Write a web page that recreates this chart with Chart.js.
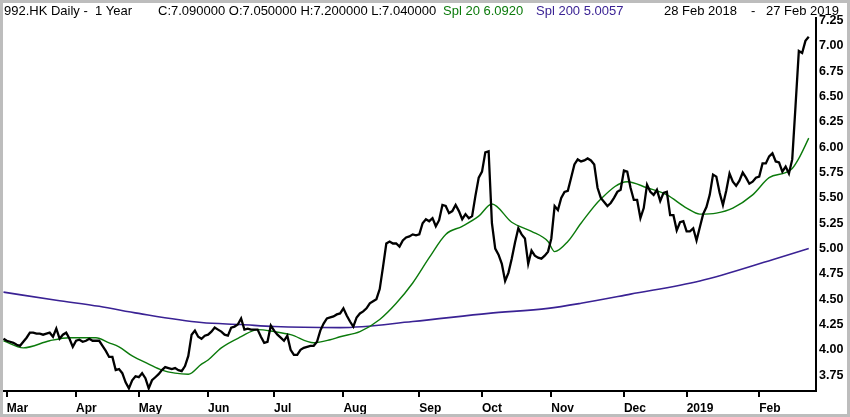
<!DOCTYPE html>
<html>
<head>
<meta charset="utf-8">
<script src="https://cdn.jsdelivr.net/npm/chart.js@4.4.1/dist/chart.umd.min.js"></script>
<style>
    html, body { margin: 0; padding: 0; background: #fff; }
    #wrap { position: relative; width: 850px; height: 417px; }
</style>
</head>
<body>
<div id="wrap"><canvas id="chart" width="850" height="417"></canvas></div>
<script>
// Daily closes, one per trading day (0 = 28 Feb 2018, 244 = 27 Feb 2019)
const closes = [
    4.11, 4.09, 4.08, 4.07, 4.05, 4.04, 4.08, 4.12, 4.17, 4.17,
    4.16, 4.16, 4.15, 4.16, 4.17, 4.13, 4.21, 4.11, 4.15, 4.17,
    4.11, 4.03, 4.09, 4.10, 4.08, 4.09, 4.11, 4.09, 4.09, 4.09,
    4.04, 3.99, 3.93, 3.93, 3.80, 3.81, 3.77, 3.68, 3.62, 3.70,
    3.74, 3.73, 3.77, 3.72, 3.62, 3.70, 3.73, 3.76, 3.80, 3.83,
    3.82, 3.81, 3.82, 3.80, 3.79, 3.84, 3.94, 4.15, 4.19, 4.13,
    4.11, 4.14, 4.15, 4.18, 4.22, 4.20, 4.18, 4.15, 4.14, 4.22,
    4.23, 4.25, 4.31, 4.20, 4.21, 4.20, 4.20, 4.20, 4.13, 4.07,
    4.08, 4.24, 4.19, 4.15, 4.12, 4.09, 4.14, 4.00, 3.95, 3.95,
    4.00, 4.02, 4.03, 4.04, 4.04, 4.08, 4.19, 4.26, 4.31, 4.32,
    4.33, 4.35, 4.36, 4.41, 4.34, 4.28, 4.23, 4.32, 4.36, 4.38,
    4.41, 4.46, 4.48, 4.50, 4.60, 4.82, 5.05, 5.07, 5.05, 5.05,
    5.02, 5.08, 5.11, 5.12, 5.14, 5.13, 5.14, 5.25, 5.29, 5.27,
    5.30, 5.22, 5.28, 5.43, 5.42, 5.35, 5.37, 5.43, 5.37, 5.29,
    5.34, 5.30, 5.32, 5.52, 5.70, 5.76, 5.95, 5.96, 5.25, 5.00,
    4.94, 4.85, 4.68, 4.76, 4.90, 5.06, 5.20, 5.14, 5.10, 4.85,
    4.98, 4.93, 4.91, 4.90, 4.93, 4.97, 5.10, 5.42, 5.38, 5.50,
    5.56, 5.57, 5.70, 5.83, 5.88, 5.86, 5.87, 5.89, 5.87, 5.83,
    5.60, 5.50, 5.46, 5.42, 5.45, 5.50, 5.56, 5.58, 5.77, 5.76,
    5.60, 5.48, 5.48, 5.30, 5.40, 5.63, 5.56, 5.53, 5.58, 5.47,
    5.55, 5.56, 5.33, 5.33, 5.18, 5.26, 5.27, 5.17, 5.17, 5.20,
    5.08, 5.21, 5.34, 5.41, 5.53, 5.73, 5.71, 5.55, 5.43, 5.57,
    5.74, 5.66, 5.62, 5.67, 5.75, 5.70, 5.64, 5.66, 5.70, 5.71,
    5.84, 5.84, 5.91, 5.94, 5.86, 5.85, 5.76, 5.81, 5.74, 5.88,
    6.41, 6.95, 6.93, 7.05, 7.09
];

// Spl 20 read at these trading days
const spl20Days = [0, 6, 14, 20, 28, 32, 35, 39, 44, 48, 52, 56, 60, 62, 66, 72, 77, 82, 87, 94,
    99, 102, 108, 114, 119, 124, 129, 134, 139, 144, 148, 154, 160, 165, 167, 171, 175, 181,
    189, 195, 201, 207, 211, 216, 221, 227, 232, 237, 239, 241, 244];
const spl20 = [4.09, 4.02, 4.09, 4.12, 4.12, 4.07, 4.03, 3.94, 3.86, 3.80, 3.77, 3.76, 3.86, 3.90, 4.02, 4.13, 4.20, 4.18, 4.15, 4.07,
    4.10, 4.13, 4.18, 4.30, 4.46, 4.66, 4.91, 5.14, 5.22, 5.32, 5.44, 5.26, 5.17, 5.07, 4.97, 5.07, 5.25, 5.49,
    5.66, 5.60, 5.53, 5.40, 5.34, 5.35, 5.40, 5.53, 5.70, 5.75, 5.79, 5.89, 6.09];

// Spl 200 read at these trading days
const spl200Days = [0, 16, 29, 41, 60, 72, 82, 102, 124, 147, 165, 175, 190, 211, 233, 244];
const spl200 = [4.57, 4.49, 4.43, 4.36, 4.27, 4.25, 4.23, 4.22, 4.28, 4.36, 4.41, 4.46, 4.55, 4.68, 4.89, 5.00];

// month ticks (trading-day index of first session of each month)
const monthDays = [1, 22, 41, 62, 82, 103, 126, 145, 166, 188, 207, 229];
const monthLabels = ['Mar', 'Apr', 'May', 'Jun', 'Jul', 'Aug', 'Sep', 'Oct', 'Nov', 'Dec', '2019', 'Feb'];
const priceTicks = [3.75, 4.00, 4.25, 4.50, 4.75, 5.00, 5.25, 5.50, 5.75, 6.00, 6.25, 6.50, 6.75, 7.00, 7.25];

const GREEN = '#0b7a0b';
const PURPLE = '#3a2294';
const FONT = '"Liberation Sans", Arial, sans-serif';

// header text + grey frame
const frame = {
    id: 'frame',
    beforeDraw(chart) {
        const ctx = chart.ctx;
        ctx.save();
        ctx.fillStyle = '#fff';
        ctx.fillRect(0, 0, chart.width, chart.height);
        ctx.restore();
    },
    afterDraw(chart) {
        const ctx = chart.ctx;
        ctx.save();
        ctx.font = '13px ' + FONT;
        ctx.textBaseline = 'alphabetic';
        ctx.textAlign = 'left';
        ctx.fillStyle = '#000';
        ctx.fillText('992.HK Daily -  1 Year', 4, 15);
        ctx.fillText('C:7.090000 O:7.050000 H:7.200000 L:7.040000', 158, 15);
        ctx.fillStyle = GREEN;
        ctx.fillText('Spl 20 6.0920', 443, 15);
        ctx.fillStyle = PURPLE;
        ctx.fillText('Spl 200 5.0057', 536, 15);
        ctx.fillStyle = '#000';
        ctx.fillText('28 Feb 2018', 664, 15);
        ctx.fillText('-', 751, 15);
        ctx.textAlign = 'right';
        ctx.fillText('27 Feb 2019', 839, 15);

        ctx.strokeStyle = '#bdbdbd';
        ctx.lineWidth = 3;
        ctx.strokeRect(1.5, 1.5, chart.width - 3, chart.height - 3);
        ctx.restore();
    }
};

const ctx = document.getElementById('chart').getContext('2d');
new Chart(ctx, {
    type: 'line',
    data: {
        datasets: [
            {
                label: '992.HK',
                data: closes.map((v, i) => ({ x: i, y: v })),
                borderColor: '#000',
                borderWidth: 2.3,
                pointRadius: 0,
                tension: 0
            },
            {
                label: 'Spl 20',
                data: spl20Days.map((d, i) => ({ x: d, y: spl20[i] })),
                borderColor: GREEN,
                borderWidth: 1.4,
                pointRadius: 0,
                cubicInterpolationMode: 'monotone'
            },
            {
                label: 'Spl 200',
                data: spl200Days.map((d, i) => ({ x: d, y: spl200[i] })),
                borderColor: PURPLE,
                borderWidth: 1.6,
                pointRadius: 0,
                cubicInterpolationMode: 'monotone'
            }
        ]
    },
    options: {
        responsive: false,
        animation: false,
        devicePixelRatio: 1,
        layout: { padding: { left: 3, top: 18, right: 0, bottom: 0 } },
        plugins: {
            legend: { display: false },
            tooltip: { enabled: false }
        },
        scales: {
            x: {
                type: 'linear',
                min: -0.15,
                max: 246.2,
                afterBuildTicks: scale => {
                    scale.ticks = monthDays.map(v => ({ value: v }));
                },
                afterFit: scale => { scale.height = 26; },
                grid: {
                    drawOnChartArea: false,
                    drawTicks: true,
                    tickLength: 6,
                    color: '#000',
                    lineWidth: 2
                },
                border: { display: true, color: '#000', width: 2 },
                ticks: {
                    autoSkip: false,
                    maxRotation: 0,
                    align: 'start',
                    padding: 4,
                    color: '#000',
                    font: { family: FONT, size: 12, weight: 'bold' },
                    callback: (v, i) => monthLabels[i]
                }
            },
            y: {
                position: 'right',
                min: 3.594,
                max: 7.276,
                afterBuildTicks: scale => {
                    scale.ticks = priceTicks.map(v => ({ value: v }));
                },
                afterFit: scale => { scale.width = 34; },
                grid: { drawOnChartArea: false, drawTicks: false },
                border: { display: true, color: '#000', width: 2 },
                ticks: {
                    padding: 3,
                    color: '#000',
                    font: { family: FONT, size: 12.5, weight: 'bold' },
                    callback: v => v.toFixed(2)
                }
            }
        }
    },
    plugins: [frame]
});
</script>
</body>
</html>
